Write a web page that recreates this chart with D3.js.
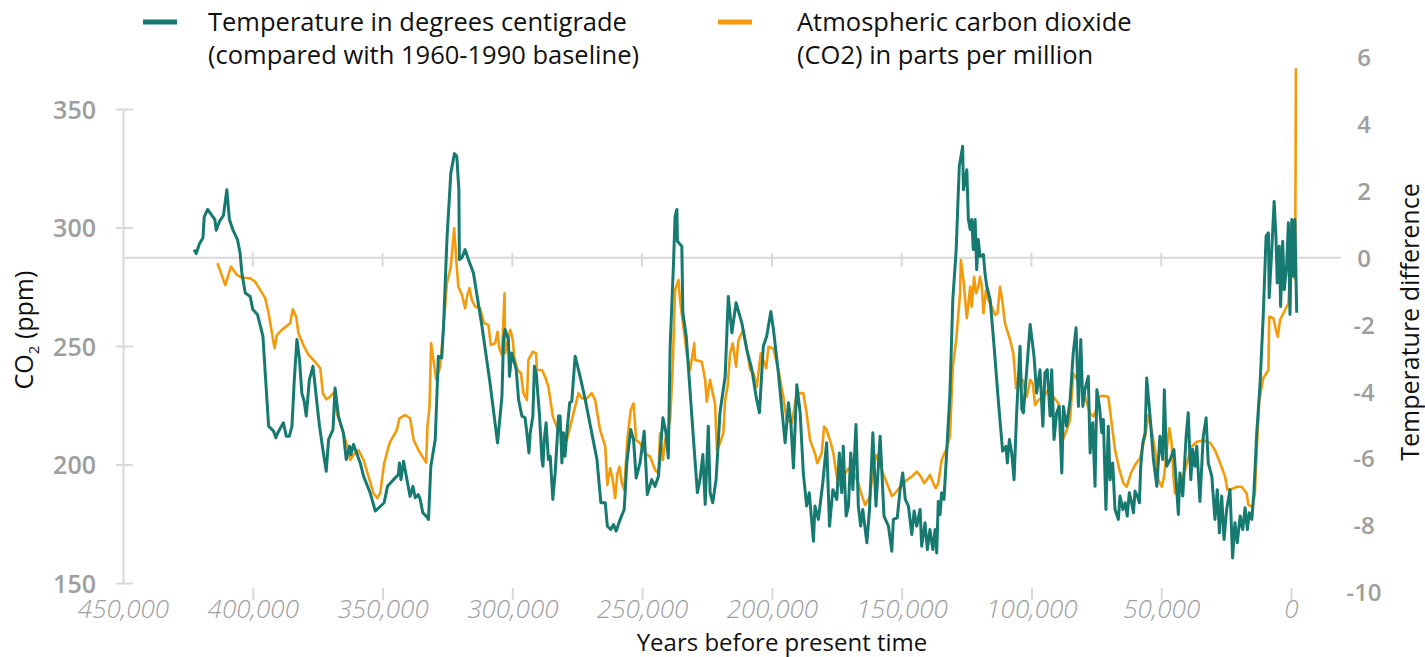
<!DOCTYPE html>
<html>
<head>
<meta charset="UTF-8">
<title>Temperature and CO2 over the last 450,000 years</title>
<script src="https://d3js.org/d3.v7.min.js"></script>
<style>
  body { margin: 0; background: #fff; }
  svg { display: block; font-family: "Open Sans", Lato, sans-serif; }
</style>
</head>
<body>
<div id="chart"></div>
<script>
// ages are in thousands of years before present
const tempKyr = [
  422.6, 421.8, 420.5, 419.2, 418.7, 417.4, 414.6, 414.1, 412.8, 411.3,
  410.0, 409.0, 407.7, 405.9, 404.9, 404.2, 402.9, 401.0, 400.0, 398.2,
  396.1, 395.2, 393.9, 392.0, 391.1, 390.5, 388.2, 387.1, 385.9, 384.9,
  384.0, 383.0, 382.0, 381.1, 380.2, 379.4, 378.2, 376.8, 375.3, 374.3,
  373.0, 371.7, 370.8, 369.1, 368.3, 367.0, 365.1, 364.0, 362.7, 362.2,
  361.2, 358.6, 357.3, 354.8, 352.8, 349.4, 348.1, 345.8, 343.9, 343.5,
  342.9, 341.9, 340.6, 339.4, 338.3, 337.4, 336.2, 335.5, 334.5, 333.2,
  332.3, 331.4, 329.7, 328.5, 327.2, 326.5, 325.2, 323.7, 322.3, 321.4,
  320.6, 320.4, 319.4, 318.2, 316.9, 315.0, 311.7, 308.6, 305.7, 304.0,
  303.4, 302.8, 301.5, 301.1, 300.2, 298.5, 297.6, 296.3, 295.1, 294.4,
  293.6, 293.1, 292.1, 291.5, 290.8, 289.6, 288.6, 288.2, 287.7, 287.0,
  286.1, 285.4, 284.4, 283.5, 282.2, 281.6, 280.9, 280.3, 279.7, 279.0,
  277.9, 277.1, 275.8, 273.9, 271.9, 269.4, 267.4, 265.9, 264.2, 263.4,
  262.1, 261.0, 260.0, 258.7, 256.9, 255.9, 254.4, 253.3, 252.3, 250.8,
  249.2, 248.0, 246.3, 245.0, 243.7, 242.0, 240.8, 239.9, 239.2, 237.9,
  237.3, 236.6, 236.4, 234.7, 234.3, 233.0, 232.2, 230.2, 228.7, 227.7,
  226.6, 225.7, 224.5, 223.8, 222.8, 221.5, 220.0, 218.0, 216.8, 215.4,
  213.8, 211.6, 209.7, 207.7, 206.1, 204.8, 203.3, 202.0, 200.4, 199.4,
  197.5, 194.9, 193.6, 192.7, 191.7, 190.4, 189.1, 187.9, 186.6, 185.6,
  184.0, 183.4, 182.1, 180.4, 178.9, 177.8, 176.5, 175.0, 174.0, 173.1,
  172.5, 171.4, 170.5, 169.6, 168.8, 167.6, 166.7, 165.8, 165.0, 163.4,
  162.4, 161.1, 159.9, 158.3, 156.8, 155.1, 153.8, 153.2, 151.7, 150.6,
  149.6, 148.6, 147.4, 146.1, 145.2, 144.2, 142.9, 142.3, 141.0, 140.1,
  139.1, 138.0, 137.1, 136.5, 135.9, 135.2, 134.6, 133.7, 132.6, 131.4,
  130.3, 129.0, 127.8, 126.5, 126.2, 124.9, 124.3, 123.6, 123.0, 122.4,
  121.7, 121.1, 120.5, 119.8, 118.5, 117.9, 117.2, 115.9, 114.4, 112.7,
  111.1, 109.8, 109.3, 108.5, 107.6, 106.7, 105.7, 104.4, 103.7, 103.1,
  102.1, 100.5, 99.0, 98.0, 96.7, 95.6, 94.8, 93.9, 92.8, 92.2,
  91.3, 90.3, 89.3, 88.3, 87.7, 86.4, 85.1, 83.9, 82.8, 81.9,
  81.0, 80.2, 79.4, 78.1, 77.4, 76.4, 75.5, 74.8, 73.8, 72.9,
  72.3, 71.3, 70.4, 69.7, 68.7, 67.8, 66.5, 65.9, 64.8, 63.9,
  63.1, 62.3, 61.4, 60.7, 60.1, 59.2, 58.4, 57.9, 57.1, 56.2,
  55.6, 54.3, 53.0, 51.7, 50.5, 49.4, 48.8, 47.9, 46.6, 45.1,
  44.3, 43.4, 42.8, 41.7, 40.4, 39.6, 38.6, 37.9, 37.0, 36.3,
  35.1, 33.8, 32.7, 31.9, 30.5, 29.3, 28.4, 27.6, 26.7, 25.8,
  24.8, 23.5, 22.5, 21.6, 20.7, 19.6, 18.6, 17.7, 16.8, 16.1,
  15.1, 14.3, 13.2, 11.9, 10.7, 9.6, 8.7, 8.4, 7.4, 6.5,
  5.8, 5.3, 4.5, 4.0, 3.2, 2.6, 1.7, 1.0, 0.4, -0.3,
  -0.9, -1.5, -2.2
];
// degrees C compared with the 1960-1990 baseline
const tempDiff = [
  0.24, 0.12, 0.42, 0.59, 1.22, 1.44, 1.14, 0.82, 1.09, 1.26,
  2.03, 1.14, 0.84, 0.54, 0.14, -0.46, -1.06, -1.16, -1.55, -1.70,
  -2.35, -3.45, -5.04, -5.19, -5.39, -5.26, -4.94, -5.34, -5.34, -5.04,
  -3.65, -2.45, -3.05, -4.05, -4.30, -4.74, -3.65, -3.25, -4.34, -5.04,
  -5.74, -6.39, -5.44, -5.14, -3.90, -4.74, -5.24, -6.04, -5.64, -5.89,
  -5.59, -6.14, -6.54, -7.03, -7.58, -7.33, -6.84, -6.64, -6.49, -6.14,
  -6.64, -6.09, -6.64, -7.14, -6.84, -7.18, -7.09, -7.23, -7.63, -7.73,
  -7.83, -6.24, -5.44, -2.95, -3.00, -2.05, 0.54, 2.53, 3.11, 3.03,
  2.03, -0.06, 0.00, 0.24, -0.06, -0.46, -2.05, -3.75, -5.54, -4.15,
  -2.45, -2.15, -2.45, -3.55, -2.85, -3.35, -4.25, -4.74, -4.79, -5.24,
  -5.84, -5.24, -4.74, -3.25, -3.45, -4.64, -6.04, -6.24, -5.44, -4.94,
  -6.04, -5.94, -7.23, -6.44, -4.74, -4.74, -6.14, -5.24, -5.94, -5.24,
  -4.34, -4.30, -2.95, -3.55, -4.25, -5.24, -6.04, -7.33, -7.33, -8.03,
  -8.13, -7.98, -8.18, -7.88, -7.53, -6.14, -5.14, -5.44, -6.59, -6.14,
  -5.19, -7.09, -6.64, -6.84, -6.54, -4.79, -5.24, -5.99, -2.65, -0.16,
  1.23, 1.44, 0.49, 0.34, -1.65, -2.35, -3.25, -5.44, -7.03, -6.64,
  -5.89, -7.38, -5.04, -7.03, -7.33, -6.64, -4.64, -3.55, -1.16, -2.25,
  -1.35, -1.95, -2.75, -3.35, -4.15, -4.64, -2.65, -2.35, -1.61, -2.15,
  -3.45, -5.54, -4.34, -4.94, -6.29, -3.80, -4.64, -6.44, -7.43, -7.03,
  -8.48, -7.43, -7.83, -6.74, -5.54, -8.03, -6.94, -7.23, -5.84, -7.03,
  -5.64, -7.73, -7.43, -5.84, -6.94, -4.99, -7.43, -8.03, -7.53, -8.53,
  -7.53, -5.24, -7.43, -5.34, -7.73, -8.03, -8.78, -7.83, -7.78, -6.94,
  -6.44, -7.23, -7.43, -8.28, -7.58, -8.03, -7.53, -8.63, -7.93, -8.73,
  -8.13, -8.73, -8.13, -8.83, -7.29, -7.68, -7.03, -7.23, -5.74, -4.05,
  -1.26, 0.24, 2.73, 3.33, 2.03, 2.63, 1.14, 0.84, 1.14, 0.24,
  1.14, -0.36, 0.54, 0.04, 0.09, -0.46, -0.86, -1.26, -2.65, -4.34,
  -5.79, -5.64, -6.14, -5.44, -5.84, -6.64, -4.64, -2.65, -4.54, -4.64,
  -3.65, -2.00, -2.95, -4.05, -3.35, -5.04, -3.45, -3.35, -4.74, -3.35,
  -5.44, -4.64, -4.45, -6.44, -4.45, -5.04, -4.25, -2.85, -2.10, -4.45,
  -2.45, -4.45, -3.95, -3.55, -5.84, -4.94, -6.84, -3.95, -4.45, -5.24,
  -4.84, -7.53, -5.04, -6.64, -6.14, -7.53, -7.83, -7.13, -7.53, -7.33,
  -7.73, -7.03, -7.33, -7.63, -6.98, -7.13, -7.33, -6.24, -5.54, -5.24,
  -3.60, -4.74, -6.04, -6.84, -5.34, -6.04, -3.95, -6.24, -6.04, -5.74,
  -6.64, -7.68, -6.44, -7.13, -5.34, -4.64, -6.64, -5.74, -6.24, -5.64,
  -7.29, -5.34, -4.79, -6.14, -6.54, -7.83, -6.94, -8.23, -7.13, -8.43,
  -7.53, -6.94, -8.98, -7.93, -8.53, -7.73, -8.13, -7.48, -8.13, -7.63,
  -7.83, -7.03, -5.24, -3.75, -1.75, 0.64, 0.74, -1.20, 0.24, 1.68,
  0.64, -0.76, 0.34, -1.46, 0.49, -0.96, -0.26, 1.04, -1.70, 1.14,
  -0.56, 1.14, -1.65
];
const co2Kyr = [
  413.6, 410.6, 408.4, 406.1, 404.2, 401.0, 399.1, 397.1, 395.2, 393.9,
  392.6, 391.6, 390.7, 388.8, 385.6, 384.6, 383.3, 382.4, 380.5, 378.5,
  376.6, 374.0, 373.0, 371.7, 370.2, 368.6, 367.6, 365.1, 363.7, 362.5,
  361.2, 359.3, 357.3, 355.4, 353.5, 352.0, 350.9, 349.4, 347.3, 344.5,
  343.5, 341.3, 339.4, 338.0, 336.2, 334.2, 333.2, 332.7, 331.9, 331.3,
  330.4, 329.3, 327.8, 326.5, 325.2, 323.7, 322.4, 321.6, 320.8, 319.4,
  318.2, 317.5, 316.5, 315.6, 314.3, 312.4, 310.9, 309.2, 308.3, 306.6,
  305.7, 305.0, 304.0, 303.0, 302.8, 301.9, 300.8, 299.8, 299.3, 298.0,
  296.7, 295.7, 294.4, 293.8, 292.1, 290.8, 290.6, 288.6, 287.4, 286.1,
  284.4, 282.9, 280.9, 279.0, 277.7, 275.8, 274.5, 273.2, 271.3, 269.4,
  268.1, 266.2, 264.2, 263.4, 262.3, 261.3, 260.4, 259.5, 258.7, 257.8,
  256.9, 255.7, 254.4, 253.3, 252.3, 250.8, 248.8, 246.9, 245.0, 243.7,
  243.1, 242.0, 241.1, 239.2, 238.2, 237.3, 236.0, 235.4, 234.1, 232.8,
  231.5, 230.5, 229.9, 229.6, 227.0, 225.7, 225.1, 223.8, 222.8, 221.9,
  221.2, 220.0, 218.7, 218.0, 217.1, 216.1, 215.1, 213.8, 212.9, 211.0,
  209.7, 208.4, 207.1, 205.8, 204.3, 202.2, 201.3, 199.4, 197.5, 195.6,
  194.3, 192.3, 190.4, 187.9, 186.6, 185.3, 183.4, 182.5, 180.8, 179.9,
  178.9, 177.3, 176.3, 174.4, 172.5, 170.5, 168.6, 166.7, 165.4, 164.1,
  162.2, 160.9, 159.6, 157.7, 155.7, 153.8, 152.5, 150.6, 148.0, 146.1,
  144.2, 142.6, 141.4, 140.3, 139.1, 137.8, 136.9, 135.9, 134.6, 132.9,
  131.4, 130.3, 129.0, 127.5, 127.2, 126.2, 124.9, 123.6, 123.0, 122.1,
  121.3, 120.5, 119.8, 119.1, 118.5, 117.5, 116.6, 115.3, 114.0, 113.1,
  112.1, 111.1, 110.2, 108.2, 107.0, 105.9, 104.7, 103.4, 101.8, 100.5,
  99.5, 98.6, 97.3, 95.4, 93.5, 91.6, 89.6, 87.9, 86.4, 85.1,
  83.9, 82.3, 80.6, 79.0, 77.4, 76.2, 75.1, 74.2, 72.3, 70.4,
  69.1, 67.8, 66.1, 64.6, 63.3, 61.7, 60.1, 58.2, 56.2, 55.0,
  53.7, 52.4, 51.1, 49.8, 48.9, 47.9, 46.9, 46.0, 45.3, 44.7,
  43.0, 40.8, 39.6, 38.3, 36.3, 33.8, 31.2, 29.3, 27.3, 25.4,
  24.5, 22.8, 20.9, 19.0, 17.1, 16.4, 14.8, 13.9, 13.2, 12.2,
  10.7, 8.7, 8.4, 6.8, 5.8, 5.1, 4.2, 2.3, 1.0, 0.4,
  -0.8, -1.6, -1.9
];
// parts per million
const co2Ppm = [
  284.9, 275.7, 283.5, 280.0, 278.8, 278.6, 277.1, 273.6, 270.1, 263.8,
  255.4, 249.0, 254.7, 256.8, 259.6, 265.5, 262.4, 255.4, 250.4, 246.2,
  244.1, 240.6, 230.1, 227.5, 228.6, 230.7, 221.6, 213.2, 208.2, 201.9,
  204.0, 206.1, 201.9, 194.9, 187.9, 185.8, 187.9, 200.5, 209.0, 214.6,
  219.5, 220.9, 219.5, 210.3, 206.1, 202.6, 200.8, 216.0, 224.4, 251.1,
  244.1, 235.7, 241.3, 258.2, 276.5, 283.5, 299.7, 286.3, 275.0, 271.5,
  265.9, 270.8, 274.4, 269.4, 266.6, 265.9, 259.6, 258.9, 250.4, 251.1,
  256.0, 249.0, 246.2, 272.2, 246.9, 251.1, 256.8, 252.5, 245.5, 239.9,
  238.5, 230.1, 227.2, 244.1, 247.6, 246.9, 239.9, 239.9, 237.1, 232.8,
  220.2, 216.0, 213.2, 210.3, 216.0, 224.4, 230.1, 227.9, 227.9, 230.1,
  227.2, 214.6, 207.5, 191.4, 198.4, 193.5, 185.8, 196.3, 199.1, 192.1,
  189.3, 210.3, 223.0, 225.8, 210.3, 209.0, 204.7, 203.3, 197.7, 196.3,
  213.2, 201.9, 210.3, 218.8, 241.3, 273.6, 277.9, 269.4, 258.2, 246.9,
  239.9, 246.9, 251.1, 244.1, 243.4, 235.7, 226.5, 235.7, 230.1, 225.8,
  206.1, 209.0, 213.2, 227.2, 232.8, 246.9, 251.1, 241.3, 252.5, 256.8,
  249.7, 239.9, 238.5, 232.8, 246.9, 240.6, 249.7, 249.0, 239.9, 228.6,
  218.8, 217.4, 230.1, 230.1, 221.6, 210.3, 204.7, 200.5, 204.7, 216.0,
  214.6, 209.0, 204.7, 190.6, 194.9, 198.4, 197.0, 192.1, 187.1, 182.9,
  186.4, 199.4, 204.0, 197.7, 192.1, 186.7, 187.9, 190.6, 193.5, 194.9,
  197.0, 194.9, 192.1, 193.5, 195.6, 192.1, 190.0, 192.1, 201.9, 206.1,
  211.7, 241.3, 252.5, 272.2, 286.3, 277.9, 261.7, 275.0, 266.6, 279.2,
  272.2, 275.0, 279.2, 275.0, 263.8, 273.6, 269.4, 266.6, 263.1, 263.8,
  275.0, 268.0, 259.6, 252.5, 246.9, 232.2, 233.6, 235.7, 228.6, 235.7,
  234.3, 225.1, 227.2, 228.6, 231.4, 228.6, 225.8, 210.3, 214.6, 218.8,
  238.5, 235.7, 232.8, 227.2, 221.6, 220.2, 223.0, 228.6, 229.0, 228.6,
  217.4, 206.1, 197.7, 192.1, 190.6, 196.3, 199.8, 202.6, 211.7, 220.9,
  214.6, 206.1, 193.5, 190.6, 194.9, 206.1, 215.3, 209.0, 194.9, 187.9,
  192.1, 197.7, 202.6, 207.5, 209.6, 210.1, 209.2, 206.1, 200.5, 194.9,
  189.3, 189.6, 190.6, 190.6, 187.9, 182.9, 182.2, 187.9, 206.1, 227.2,
  236.4, 239.9, 262.4, 261.7, 256.8, 253.9, 261.0, 265.2, 268.0, 279.2,
  282.8, 277.9, 367.2
];

const yearTicks = [450, 400, 350, 300, 250, 200, 150, 100, 50, 0];
const co2Ticks = [150, 200, 250, 300, 350];
const tempTicks = [-10, -8, -6, -4, -2, 0, 2, 4, 6];

const legendLabels = [
  ["Temperature in degrees centigrade", "(compared with 1960-1990 baseline)"],
  ["Atmospheric carbon dioxide", "(CO2) in parts per million"]
];

const teal = "#177a71", orange = "#f49b0b", grey = "#d9d9d9", tickGrey = "#9e9e9e";
const fontStack = "'Open Sans', Lato, sans-serif";

const width = 1425, height = 657;

const svg = d3.select("#chart").append("svg")
  .attr("width", width)
  .attr("height", height);

const x = d3.scaleLinear().domain([450, 0]).range([123, 1291]);
const yCo2 = d3.scaleLinear().domain([150, 350]).range([583, 109]);
const yTemp = d3.scaleLinear().domain([-10, 6]).range([592, 57]);

// zero-degree baseline with its small year ticks
const y0 = yTemp(0);
svg.append("line")
  .attr("x1", x(450)).attr("x2", x(0) + 50)
  .attr("y1", y0).attr("y2", y0)
  .attr("stroke", grey).attr("stroke-width", 2);
svg.selectAll(".zero-tick")
  .data(yearTicks.filter(d => d < 450))
  .enter().append("line")
  .attr("class", "zero-tick")
  .attr("x1", d => x(d)).attr("x2", d => x(d))
  .attr("y1", y0 - 5).attr("y2", y0 + 9)
  .attr("stroke", grey).attr("stroke-width", 2);

// left CO2 axis
const leftAxis = svg.append("g")
  .attr("transform", `translate(${x(450)},0)`)
  .call(d3.axisLeft(yCo2).tickValues(co2Ticks).tickSize(7).tickSizeOuter(0).tickPadding(20));
leftAxis.select(".domain").attr("stroke", grey).attr("stroke-width", 2);
leftAxis.selectAll(".tick line").attr("x1", 10).attr("stroke", grey).attr("stroke-width", 2);
leftAxis.selectAll(".tick text")
  .attr("dy", "0.36em")
  .attr("fill", tickGrey)
  .attr("font-size", 25)
  .attr("font-weight", 600)
  .attr("font-family", fontStack);

// right temperature axis (labels only)
const rightAxis = svg.append("g")
  .attr("transform", "translate(1364,0)")
  .call(d3.axisRight(yTemp).tickValues(tempTicks).tickSize(0).tickPadding(0)
    .tickFormat(d => String(d)));
rightAxis.select(".domain").remove();
rightAxis.selectAll(".tick text")
  .attr("text-anchor", "middle")
  .attr("dy", "0.36em")
  .attr("fill", tickGrey)
  .attr("font-size", 24)
  .attr("font-weight", 600)
  .attr("font-family", fontStack);

// bottom year axis
const bottomAxis = svg.append("g")
  .attr("transform", "translate(0,588)")
  .call(d3.axisBottom(x).tickValues(yearTicks).tickSize(12).tickPadding(0)
    .tickFormat(d => d3.format(",")(d * 1000)));
bottomAxis.select(".domain").remove();
bottomAxis.selectAll(".tick line")
  .attr("stroke", grey).attr("stroke-width", 2)
  .attr("display", d => d === 450 ? "none" : null);
bottomAxis.selectAll(".tick text")
  .attr("fill", tickGrey)
  .attr("font-size", 26)
  .attr("font-style", "italic")
  .attr("font-weight", 300)
  .attr("font-family", fontStack);

// series
const co2Data = co2Kyr.map((k, i) => ({ kyr: k, value: co2Ppm[i] }));
const tempData = tempKyr.map((k, i) => ({ kyr: k, value: tempDiff[i] }));

svg.append("path")
  .datum(co2Data)
  .attr("fill", "none")
  .attr("stroke", orange)
  .attr("stroke-width", 2.6)
  .attr("stroke-linejoin", "round")
  .attr("d", d3.line().x(d => x(d.kyr)).y(d => yCo2(d.value)));

svg.append("path")
  .datum(tempData)
  .attr("fill", "none")
  .attr("stroke", teal)
  .attr("stroke-width", 3)
  .attr("stroke-linejoin", "round")
  .attr("d", d3.line().x(d => x(d.kyr)).y(d => yTemp(d.value)));

// legend
const legend = svg.selectAll(".legend")
  .data(legendLabels)
  .enter().append("g")
  .attr("class", "legend")
  .attr("transform", (d, i) => `translate(${i === 0 ? 143 : 718},0)`);
legend.append("line")
  .attr("x1", 0).attr("x2", 34).attr("y1", 22).attr("y2", 22)
  .attr("stroke", (d, i) => i === 0 ? teal : orange)
  .attr("stroke-width", 5);
legend.each(function(lines, k) {
  d3.select(this).selectAll("text")
    .data(lines)
    .enter().append("text")
    .attr("x", k === 0 ? 65 : 79)
    .attr("y", (d, i) => 31 + i * 33)
    .attr("font-size", 25.5)
    .attr("font-weight", 500)
    .attr("fill", "#111")
    .text(d => d);
});

// axis titles
const co2Title = svg.append("text")
  .attr("transform", "translate(33,330) rotate(-90)")
  .attr("text-anchor", "middle")
  .attr("font-size", 25)
  .attr("font-weight", 500)
  .attr("fill", "#111");
co2Title.append("tspan").text("CO");
co2Title.append("tspan").attr("font-size", 15).attr("dy", 6).text("2");
co2Title.append("tspan").attr("dy", -6).text(" (ppm)");

svg.append("text")
  .attr("transform", "translate(1419,322) rotate(-90)")
  .attr("text-anchor", "middle")
  .attr("font-size", 25)
  .attr("font-weight", 500)
  .attr("fill", "#111")
  .text("Temperature difference");

svg.append("text")
  .attr("x", 782).attr("y", 651)
  .attr("text-anchor", "middle")
  .attr("font-size", 24)
  .attr("font-weight", 500)
  .attr("fill", "#111")
  .text("Years before present time");
</script>
</body>
</html>
